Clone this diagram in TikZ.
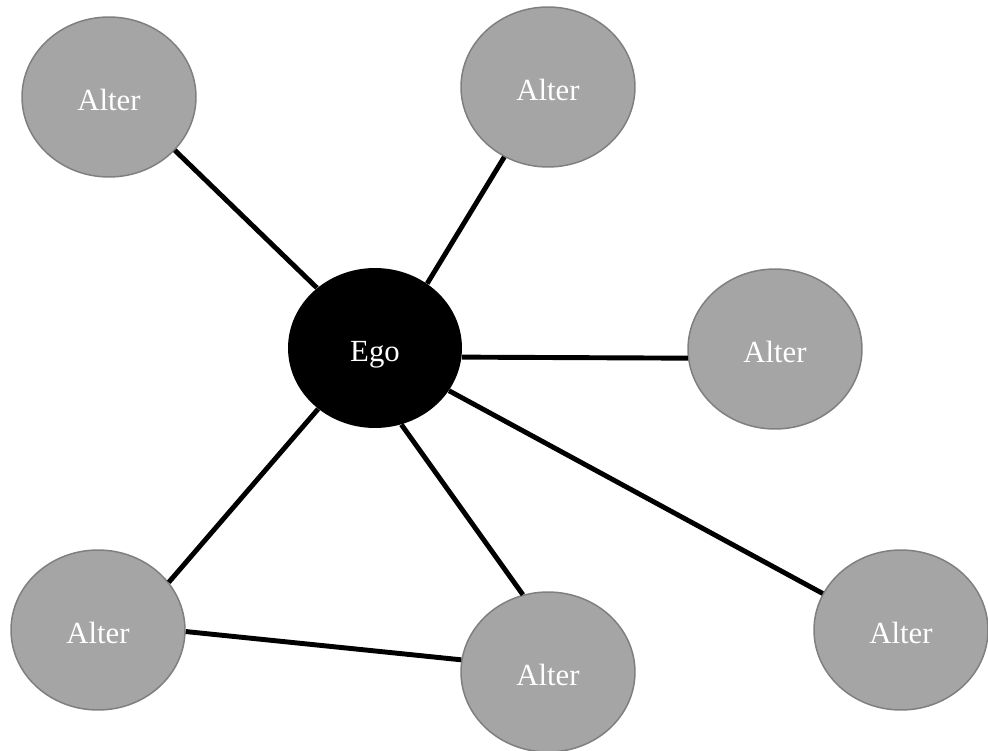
\documentclass[tikz,border=0pt]{standalone}
\usepackage{fontspec}
\setmainfont{Liberation Serif}
\usetikzlibrary{shapes.geometric}
\definecolor{alterfill}{HTML}{A5A5A5}
\definecolor{alterline}{HTML}{7F7F7F}

\begin{document}
\begin{tikzpicture}[x=0.02cm,y=-0.02cm,
    person/.style={ellipse,minimum width=3.48cm,minimum height=3.2cm,inner sep=0pt,
      font=\fontsize{17.5}{20}\selectfont,text=white,text height=14.8pt,text depth=0pt},
    alter/.style={person,fill=alterfill,draw=alterline,line width=0.85pt},
    tie/.style={line width=2.8pt}]

      \useasboundingbox (0,0) rectangle (988,751);

      % ego in the middle, alters round it
      \node[person,fill=black] (E) at (375,348) {Ego};
      \node[alter] (A1) at (109,97) {Alter};
      \node[alter] (A2) at (548,87) {Alter};
      \node[alter] (A3) at (775,349) {Alter};
      \node[alter] (A4) at (98,630) {Alter};
      \node[alter] (A5) at (548,672) {Alter};
      \node[alter] (A6) at (901,630) {Alter};

      % ties
      \draw[tie] (E.134)--(A1.-39);
      \draw[tie] (E.51)--(A2.-122);
      \draw[tie] (E.-6)--(A3.-174);
      \draw[tie] (E.-133)--(A4.34);
      \draw[tie] (E.-71)--(A5.108);
      \draw[tie] (E.-30)--(A6.155);
      \draw[tie] (A4.-1)--(A5.172);
  \end{tikzpicture}
\end{document}
